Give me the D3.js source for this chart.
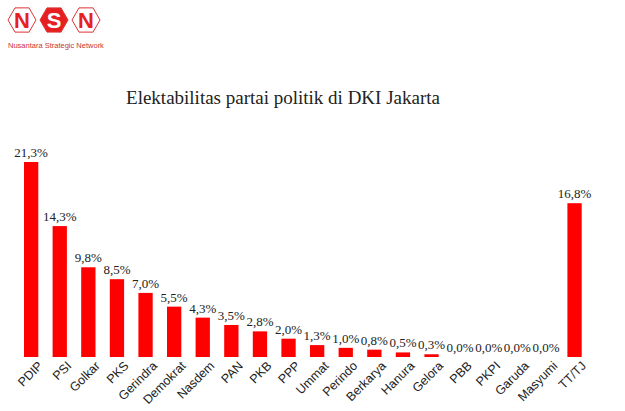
<!DOCTYPE html>
<html><head><meta charset="utf-8">
<script src="https://cdn.jsdelivr.net/npm/d3@7"></script>
<style>body{margin:0;background:#fff}</style></head>
<body><svg id="c" width="625" height="411"></svg>
<script>
const categories=["PDIP","PSI","Golkar","PKS","Gerindra","Demokrat","Nasdem","PAN","PKB","PPP","Ummat","Perindo","Berkarya","Hanura","Gelora","PBB","PKPI","Garuda","Masyumi","TT/TJ"];
const values=[21.3,14.3,9.8,8.5,7.0,5.5,4.3,3.5,2.8,2.0,1.3,1.0,0.8,0.5,0.3,0.0,0.0,0.0,0.0,16.8];
const labels=values.map(v=>v.toFixed(1).replace(".",",")+"%");
const svg=d3.select("#c");
const x=d3.scaleBand().domain(categories).range([16.85,588.85]).paddingInner(0.5).paddingOuter(0.25);
const y=d3.scaleLinear().domain([0,21.3]).range([357,162]);
const red="#ff0000";
svg.selectAll("rect.b").data(values).join("rect").attr("class","b")
 .attr("x",(d,i)=>x(categories[i])).attr("width",x.bandwidth())
 .attr("y",d=>y(d)).attr("height",d=>y(0)-y(d)).attr("fill",red);
svg.selectAll("text.v").data(values).join("text").attr("class","v")
 .attr("x",(d,i)=>x(categories[i])+x.bandwidth()/2).attr("y",d=>y(d)-5)
 .attr("text-anchor","middle").attr("font-family","Liberation Serif").attr("font-size",13).attr("fill","#222")
 .text((d,i)=>labels[i]);
const ax=svg.append("g").attr("transform","translate(0,357)").call(d3.axisBottom(x).tickSize(0).tickPadding(8));
ax.select(".domain").remove();
ax.selectAll("text").attr("font-family","Liberation Sans").attr("font-size",12.5).attr("fill","#222")
 .attr("text-anchor","end").attr("transform","rotate(-45)").attr("dx","2").attr("dy","0.6em");
svg.append("text").attr("x",283).attr("y",104).attr("text-anchor","middle")
 .attr("font-family","Liberation Serif").attr("font-size",19).attr("fill","#222").text("Elektabilitas partai politik di DKI Jakarta");
const logo=svg.append("g");
const hex=(cx,cy,r,fill)=>{const p=d3.range(6).map(k=>{const a=Math.PI/3*k;return [cx+r*Math.cos(a),cy+r*Math.sin(a)];});
 logo.append("polygon").attr("points",p.map(q=>q.join(",")).join(" ")).attr("fill",fill).attr("stroke","#d33").attr("stroke-width",1);};
hex(22,20,14,"#fff");hex(54,20,14,"#e62020");hex(86,20,14,"#fff");
[["N",22,"#e62020"],["S",54,"#fff"],["N",86,"#e62020"]].forEach(([t,cx,c])=>logo.append("text").attr("x",cx).attr("y",28).attr("text-anchor","middle")
 .attr("font-family","Liberation Sans").attr("font-weight","bold").attr("font-size",22).attr("fill",c).text(t));
logo.append("text").attr("x",8).attr("y",48).attr("font-family","Liberation Sans").attr("font-size",7.5).attr("fill","#c33").text("Nusantara Strategic Network");
</script></body></html>
